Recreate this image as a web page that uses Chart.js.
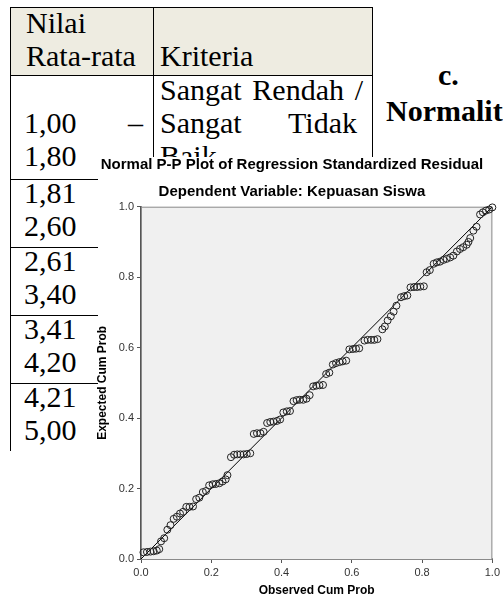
<!DOCTYPE html>
<html>
<head>
<meta charset="utf-8">
<script src="https://cdn.jsdelivr.net/npm/chart.js@4/dist/chart.umd.min.js"></script>
<style>
  body { margin: 0; width: 503px; height: 601px; overflow: hidden; position: relative; background: #fff; }
  .t { position: absolute; font-family: "Liberation Serif", "Times New Roman", serif; font-size: 30px; line-height: 30px; color: #000; white-space: nowrap; }
  .j { text-align: justify; text-align-last: justify; white-space: normal; }
  .b { font-weight: bold; }
  .hl { position: absolute; height: 1px; background: #000; }
  .vl { position: absolute; width: 1px; background: #000; }
</style>
</head>
<body>
<!-- document table behind the chart -->
<div style="position:absolute;left:10px;top:7px;width:362px;height:68px;background:#EEECE1"></div>
<div class="hl" style="left:10px;top:7px;width:363px"></div>
<div class="hl" style="left:10px;top:75px;width:363px"></div>
<div class="hl" style="left:10px;top:179px;width:100px"></div>
<div class="hl" style="left:10px;top:247px;width:100px"></div>
<div class="hl" style="left:10px;top:315px;width:100px"></div>
<div class="hl" style="left:10px;top:383px;width:100px"></div>
<div class="vl" style="left:10px;top:7px;height:444px"></div>
<div class="vl" style="left:153px;top:7px;height:172px"></div>
<div class="vl" style="left:372px;top:7px;height:160px"></div>

<div class="t" style="left:26px;top:8px">Nilai</div>
<div class="t" style="left:26px;top:41px">Rata-rata</div>
<div class="t" style="left:160px;top:41px">Kriteria</div>
<div class="t j" style="left:160px;top:75px;width:203px">Sangat Rendah /</div>
<div class="t j" style="left:24px;top:108px;width:119px">1,00 –</div>
<div class="t j" style="left:160px;top:108px;width:197px">Sangat Tidak</div>
<div class="t" style="left:24px;top:141px">1,80</div>
<div class="t" style="left:160px;top:141px">Baik</div>
<div class="t" style="left:24px;top:178px">1,81</div>
<div class="t" style="left:24px;top:211px">2,60</div>
<div class="t" style="left:24px;top:246px">2,61</div>
<div class="t" style="left:24px;top:279px">3,40</div>
<div class="t" style="left:24px;top:314px">3,41</div>
<div class="t" style="left:24px;top:347px">4,20</div>
<div class="t" style="left:24px;top:382px">4,21</div>
<div class="t" style="left:24px;top:415px">5,00</div>
<div class="t b" style="left:438px;top:60px">c.</div>
<div class="t b" style="left:386px;top:96px">Normalitas</div>

<!-- the pasted SPSS chart -->
<div style="position:absolute;left:98px;top:157px;width:405px;height:444px;background:#fff"></div>
<canvas id="ppPlot" width="423" height="444" style="position:absolute;left:80px;top:157px"></canvas>

<script>
const chartTitle = 'Normal P-P Plot of Regression Standardized Residual';
const chartSubtitle = 'Dependent Variable: Kepuasan Siswa';
const xAxisTitle = 'Observed Cum Prob';
const yAxisTitle = 'Expected Cum Prob';

const tickValues = [0, 0.2, 0.4, 0.6, 0.8, 1.0];
const tickLabels = ['0.0', '0.2', '0.4', '0.6', '0.8', '1.0'];

// observed vs expected cumulative probability of the residuals
const observedCumProb = [
  0.007, 0.017, 0.027, 0.036, 0.045, 0.052, 0.057, 0.066, 0.075, 0.084,
  0.093, 0.102, 0.111, 0.120, 0.129, 0.138, 0.148, 0.157, 0.166, 0.176,
  0.185, 0.194, 0.204, 0.213, 0.223, 0.232, 0.241, 0.246, 0.256, 0.265,
  0.274, 0.283, 0.292, 0.301, 0.311, 0.321, 0.330, 0.340, 0.349, 0.359,
  0.368, 0.377, 0.387, 0.396, 0.405, 0.415, 0.424, 0.434, 0.443, 0.452,
  0.462, 0.471, 0.480, 0.490, 0.499, 0.508, 0.518, 0.527, 0.536, 0.546,
  0.555, 0.565, 0.574, 0.584, 0.593, 0.603, 0.612, 0.621, 0.636, 0.645,
  0.655, 0.664, 0.673, 0.687, 0.694, 0.702, 0.711, 0.719, 0.727, 0.740,
  0.749, 0.758, 0.767, 0.777, 0.786, 0.795, 0.805, 0.813, 0.822, 0.833,
  0.842, 0.851, 0.861, 0.870, 0.880, 0.889, 0.899, 0.908, 0.917, 0.927,
  0.932, 0.937, 0.946, 0.955, 0.965, 0.973, 0.982, 0.991, 1.000
];
const expectedCumProb = [
  0.019, 0.020, 0.021, 0.022, 0.024, 0.028, 0.050, 0.059, 0.083, 0.096,
  0.114, 0.120, 0.129, 0.134, 0.148, 0.148, 0.149, 0.170, 0.174, 0.190,
  0.193, 0.209, 0.212, 0.213, 0.215, 0.220, 0.226, 0.238, 0.289, 0.296,
  0.297, 0.297, 0.297, 0.298, 0.300, 0.355, 0.357, 0.357, 0.361, 0.386,
  0.389, 0.390, 0.392, 0.396, 0.416, 0.419, 0.420, 0.448, 0.451, 0.452,
  0.452, 0.455, 0.465, 0.490, 0.492, 0.493, 0.494, 0.525, 0.529, 0.552,
  0.556, 0.559, 0.561, 0.563, 0.595, 0.596, 0.597, 0.598, 0.620, 0.622,
  0.622, 0.622, 0.624, 0.652, 0.660, 0.677, 0.689, 0.702, 0.719, 0.743,
  0.746, 0.748, 0.771, 0.772, 0.772, 0.773, 0.774, 0.814, 0.820, 0.838,
  0.842, 0.844, 0.849, 0.852, 0.856, 0.861, 0.873, 0.880, 0.885, 0.892,
  0.900, 0.911, 0.932, 0.943, 0.978, 0.984, 0.989, 0.992, 0.998
];
const referenceLine = [{x: 0, y: 0}, {x: 1, y: 1}];

const sans = '"Liberation Sans", Arial, sans-serif';

// grey plot background + thin frame, like SPSS
const plotFrame = {
  id: 'plotFrame',
  beforeDatasetsDraw(chart) {
    const {ctx, chartArea: a} = chart;
    ctx.save();
    ctx.fillStyle = '#F0F0F0';
    ctx.fillRect(a.left, a.top, a.right - a.left, a.bottom - a.top);
    ctx.strokeStyle = '#8a8a8a';
    ctx.lineWidth = 1;
    ctx.strokeRect(a.left + 0.5, a.top + 0.5, a.right - a.left - 1, a.bottom - a.top);
    ctx.restore();
  }
};

function axisOptions(title, size, pad) {
  return {
    type: 'linear',
    min: 0,
    max: 1,
    afterBuildTicks: (scale) => { scale.ticks = tickValues.map(v => ({value: v})); },
    afterFit: (scale) => { if (scale.isHorizontal()) scale.height = size; else scale.width = size; },
    ticks: {
      autoSkip: false,
      maxRotation: 0,
      padding: 3,
      color: '#333',
      font: {family: sans, size: 11},
      callback: (value, index) => tickLabels[index]
    },
    grid: {drawOnChartArea: false, drawTicks: true, tickLength: 4, color: '#555'},
    border: {display: true, color: '#555', width: 2},
    title: {
      display: true,
      text: title,
      color: '#000',
      font: {family: sans, size: 12, weight: 'bold', lineHeight: 1},
      padding: pad
    }
  };
}

new Chart(document.getElementById('ppPlot'), {
  data: {
    datasets: [
      {
        type: 'scatter',
        data: observedCumProb.map((x, i) => ({x: x, y: expectedCumProb[i]})),
        pointStyle: 'circle',
        pointRadius: 3.5,
        pointBorderWidth: 1,
        pointBorderColor: '#222',
        pointBackgroundColor: 'rgba(0,0,0,0)',
        clip: false
      },
      {
        type: 'line',
        data: referenceLine,
        borderColor: '#000',
        borderWidth: 1,
        pointRadius: 0
      }
    ]
  },
  options: {
    responsive: false,
    animation: false,
    devicePixelRatio: 1,
    layout: {padding: {left: 8, right: 7, top: 0, bottom: 0}},
    plugins: {
      legend: {display: false},
      tooltip: {enabled: false},
      title: {
        display: true,
        text: chartTitle,
        color: '#000',
        font: {family: sans, size: 15, weight: 'bold', lineHeight: 1},
        padding: {top: 0, bottom: 6}
      },
      subtitle: {
        display: true,
        text: chartSubtitle,
        color: '#000',
        font: {family: sans, size: 15, weight: 'bold', lineHeight: 1},
        padding: {top: 6, bottom: 7.7}
      }
    },
    scales: {
      x: axisOptions(xAxisTitle, 42, {top: 0, bottom: 4}),
      y: axisOptions(yAxisTitle, 53, {top: 9, bottom: 0})
    }
  },
  plugins: [plotFrame]
});
</script>
</body>
</html>
